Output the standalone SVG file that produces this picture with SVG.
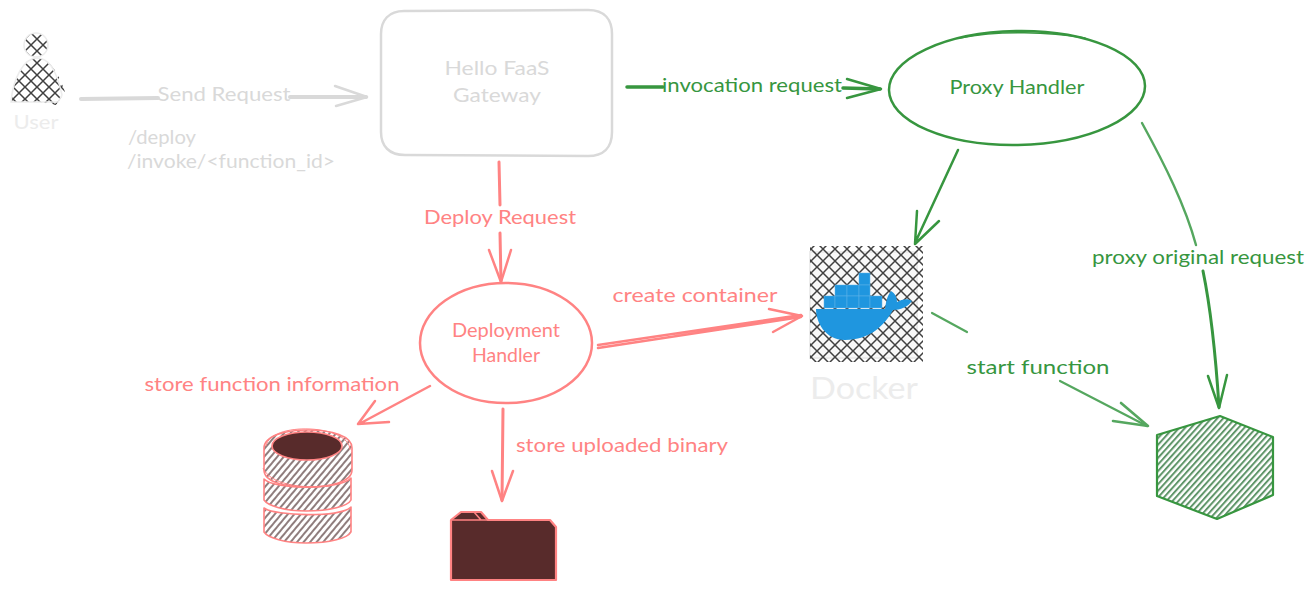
<svg xmlns="http://www.w3.org/2000/svg" width="1315" height="590" viewBox="0 0 1315 590">
<style>
text{font-family:"Lato","Noto Sans",sans-serif;font-size:19px;text-anchor:middle}
.g{fill:#d9d9d9}.r{fill:#ff8383}.d{fill:#37963f}
.gs{stroke:#d9d9d9;fill:none;stroke-width:2.5;stroke-linecap:round;stroke-linejoin:round}
.rs{stroke:#ff8383;fill:none;stroke-width:2.5;stroke-linecap:round;stroke-linejoin:round}
.ds{stroke:#37963f;fill:none;stroke-width:2.5;stroke-linecap:round;stroke-linejoin:round}
.dl{stroke:#55a75f;fill:none;stroke-width:2.2;stroke-linecap:round;stroke-linejoin:round}
.tier{fill:url(#hr);stroke:#ff8383;stroke-width:1.6;stroke-linejoin:round}
.box{fill:#1f96df;stroke:#62b4e8;stroke-width:.5}
</style>
<defs>
<pattern id="cross" width="12" height="12" patternUnits="userSpaceOnUse" patternTransform="translate(1 3)">
<path d="M-1 -1L13 13M-1 13L13 -1" stroke="#404040" stroke-width="1.5" fill="none"/>
</pattern>
<pattern id="hr" width="5" height="5" patternUnits="userSpaceOnUse" patternTransform="rotate(-50)">
<rect width="5" height="2" fill="#8f7d7d"/>
</pattern>
<pattern id="hg" width="4.4" height="4.4" patternUnits="userSpaceOnUse" patternTransform="rotate(-48)">
<rect width="4.4" height="2" fill="#5f9569"/>
</pattern>
</defs>
<g id="connectors">
<path class="gs" style="stroke-width:4" d="M81 99L158 98M290 97L366 97"/>
<path class="gs" d="M335 86L367 97L336 106"/>
<path class="ds" style="stroke-width:3.5" d="M627 87L663 87M843 88L880 89"/>
<path class="ds" d="M847 79L881 89L847 98"/>
<path class="rs" style="stroke-width:3" d="M499 162L500 205M500 233L501 281"/>
<path class="rs" d="M489 250L501 282L511 250"/>
<path class="ds" d="M958 150L915 243M917 211L915 244L939 221"/>
<path class="dl" style="stroke-width:2.4" d="M1142 123C1165 165 1185 205 1196 245"/>
<path class="ds" style="stroke-width:3" d="M1203 271C1211 310 1216 360 1219 407"/>
<path class="ds" d="M1208 376L1219 408L1227 375"/>
<path class="dl" d="M932 313L967 332M1060 381L1147 426"/>
<path class="dl" style="stroke-width:2.6" d="M1121 403L1148 426L1113 421"/>
<path class="rs" d="M598 345L801 315M598 348L801 317"/>
<path class="rs" d="M769 309L802 316L773 332"/>
<path class="rs" d="M430 386L359 424M375 401L358 424L389 422"/>
<path class="rs" style="stroke-width:3" d="M503 409L502 500"/>
<path class="rs" d="M492 471L502 501L513 471"/>
</g>
<g id="user">
<circle cx="36" cy="45" r="12" fill="url(#cross)" stroke="#ececec" stroke-width="1.5"/>
<path d="M11 102C13 78 24 58 37 58C50 58 60 76 65 92L56 105L40 102Z" fill="url(#cross)" stroke="none"/>
<path d="M11 102C13 78 24 58 37 58C48 58 56 68 62 95L58 102Z" fill="none" stroke="#ececec" stroke-width="1.5"/>
<text x="36" y="129" style="fill:#ececec" textLength="45" lengthAdjust="spacingAndGlyphs">User</text>
</g>
<g id="gateway">
<path class="gs" d="M404 11L588 10C605 10 612 20 612 34L612 132C612 148 603 156 588 156L405 155C389 155 381 146 381 132L381 34C381 20 389 11 404 11Z"/>
<text x="497" y="75" class="g" textLength="105" lengthAdjust="spacingAndGlyphs">Hello FaaS</text>
<text x="497" y="102" class="g" textLength="88" lengthAdjust="spacingAndGlyphs">Gateway</text>
</g>
<g id="proxy-handler">
<ellipse cx="1017" cy="88" rx="128" ry="57" transform="rotate(-1 1017 88)" class="ds"/>
<path class="ds" style="stroke-width:1.5" d="M960 38C1000 30 1050 32 1085 38"/>
<text x="1017" y="94" class="d" textLength="135" lengthAdjust="spacingAndGlyphs">Proxy Handler</text>
</g>
<g id="deployment-handler">
<ellipse cx="506" cy="343" rx="86" ry="60" class="rs"/>
<text x="506" y="337" class="r" textLength="108" lengthAdjust="spacingAndGlyphs">Deployment</text>
<text x="506" y="362" class="r" textLength="68" lengthAdjust="spacingAndGlyphs">Handler</text>
</g>
<g id="docker">
<rect x="810" y="252" width="107" height="106" fill="#f8f8f8" stroke="#ececec" stroke-width="2"/>
<rect x="810" y="246" width="113" height="116" fill="url(#cross)"/>
<path fill="#1f96df" d="M816 309L885 309C886 302 887 296 891 291C895 293 897 298 897 302C902 299 908 298 912 301C908 307 900 310 893 310C885 325 870 340 845 340C825 340 816 322 816 309Z"/>
<rect class="box" x="824" y="296" width="11" height="12"/><rect class="box" x="835" y="285" width="12" height="11"/><rect class="box" x="835" y="296" width="12" height="12"/>
<rect class="box" x="847" y="285" width="12" height="11"/><rect class="box" x="847" y="296" width="12" height="12"/><rect class="box" x="859" y="273" width="11" height="12"/>
<rect class="box" x="859" y="285" width="11" height="11"/><rect class="box" x="859" y="296" width="11" height="12"/><rect class="box" x="870" y="296" width="12" height="12"/>
<text x="864" y="399" style="fill:#ececec;font-size:30px" textLength="108" lengthAdjust="spacingAndGlyphs">Docker</text>
</g>
<g id="database">
<path class="tier" d="M264 508C275 516 340 518 351 507L351 532C348 538 330 543 306 543C285 543 268 538 264 532Z"/>
<path class="tier" d="M264 479C275 490 340 490 351 478L351 500C348 506 330 511 306 511C285 511 268 506 264 500Z"/>
<path class="tier" d="M264 448C264 436 285 430 308 430C332 430 352 436 352 448L352 470C352 482 330 487 308 487C285 487 264 482 264 470Z"/>
<path d="M266 446C268 434 288 428 310 429C332 430 350 438 350 450M263 468C270 484 300 489 330 486" fill="none" stroke="#ff8383" stroke-width="1"/>
<ellipse cx="307" cy="446" rx="35" ry="14" fill="#582b2b" stroke="#ff8383" stroke-width="1.6"/>
</g>
<g id="folder">
<path d="M451 520L461 512L481 512L488 520L550 520L556 527L556 580L451 580Z" fill="#582b2b" stroke="#ff8383" stroke-width="2.2" stroke-linejoin="round"/>
<path d="M451 520L488 520M474 512L481 520" stroke="#ff8383" stroke-width="1.6" fill="none"/>
</g>
<g id="function">
<path fill="url(#hg)" stroke="#37963f" stroke-width="2.2" stroke-linejoin="round" d="M1157 435L1220 416L1273 437L1273 495L1217 519L1157 496Z"/>
</g>
<g id="labels">
<text x="224" y="101" class="g" textLength="133" lengthAdjust="spacingAndGlyphs">Send Request</text>
<text x="162" y="144" class="g" textLength="68" lengthAdjust="spacingAndGlyphs">/deploy</text>
<text x="231" y="168" class="g" textLength="208" lengthAdjust="spacingAndGlyphs">/invoke/&lt;function_id&gt;</text>
<text x="752" y="92" class="d" textLength="180" lengthAdjust="spacingAndGlyphs">invocation request</text>
<text x="500" y="224" class="r" textLength="152" lengthAdjust="spacingAndGlyphs">Deploy Request</text>
<text x="695" y="302" class="r" textLength="165" lengthAdjust="spacingAndGlyphs">create container</text>
<text x="272" y="391" class="r" textLength="255" lengthAdjust="spacingAndGlyphs">store function information</text>
<text x="622" y="452" class="r" textLength="212" lengthAdjust="spacingAndGlyphs">store uploaded binary</text>
<text x="1198" y="264" class="d" textLength="212" lengthAdjust="spacingAndGlyphs">proxy original request</text>
<text x="1038" y="374" class="d" textLength="143" lengthAdjust="spacingAndGlyphs">start function</text>
</g>
</svg>
